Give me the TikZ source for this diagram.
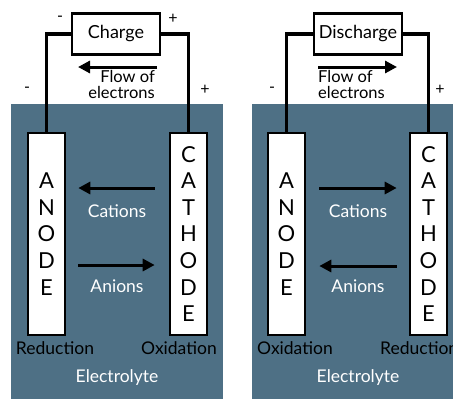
\documentclass[tikz,border=0pt]{standalone}
\usepackage{fontspec}
\setmainfont{Lato}
\usepackage{xcolor}
\definecolor{elyte}{HTML}{4E7085}
\usetikzlibrary{arrows.meta,positioning,calc}
\tikzset{
  >={Triangle[length=12pt,width=12pt]},
  bath/.style={fill=elyte,draw=none},
  electrode/.style={draw=black,fill=white,line width=2.6pt,minimum width=37pt,minimum height=202pt,inner sep=0pt,align=center,font=\fontsize{22}{26.6}\selectfont},
  pbox/.style={draw=black,fill=white,line width=2.6pt,minimum width=88pt,minimum height=41pt,inner sep=2pt,font=\fontsize{18}{20}\selectfont},
  wire/.style={draw=black,line width=3.2pt},
  arr/.style={->,draw=black,line width=3pt},
  lab/.style={font=\fontsize{17.5}{19}\selectfont,inner sep=0pt},
  wlab/.style={lab,text=white},
  flab/.style={lab,font=\fontsize{16.5}{16}\selectfont},
  sgn/.style={font=\fontsize{16}{16}\selectfont,inner sep=0pt},
}
\begin{document}
\begin{tikzpicture}[x=1pt,y=-1pt]
\useasboundingbox (0,0) rectangle (453,400);
% electrolyte baths
\fill[bath] (11,104) rectangle (223,399);
\fill[bath] (252,104) rectangle (453,399);

% charging cell
\node[electrode] (anodL) at (46.5,234) {A\\N\\O\\D\\E};
\node[electrode] (cathL) at (188.5,234) {C\\A\\T\\H\\O\\D\\E};
\node[pbox] (chg) at (116,34) {Charge};
\draw[wire] (anodL.north) |- (chg.west);
\draw[wire] (cathL.north) |- (chg.east);
\node[sgn] (mL1) at (60,19) {-};
\node[sgn] (pL1) at (173,19) {+};
\node[sgn] (mL2) at (27,90) {-};
\node[sgn] (pL2) at (205,90) {+};
\draw[arr] (157,67) coordinate (eL0) -- (78,67) coordinate (eL1);
\node[flab,align=right,anchor=north east] (flowL) at (155,70) {Flow of\\electrons};
\draw[arr] ($(cathL.west)+(-14,-46)$) -- ($(anodL.east)+(12,-46)$);
\node[wlab] (catL) at (117,211) {Cations};
\draw[arr] ($(anodL.east)+(12,31)$) -- ($(cathL.west)+(-14,31)$);
\node[wlab] (aniL) at (117,286) {Anions};
\node[lab] (redL) at (55,348) {Reduction};
\node[lab] (oxL) at (179,348) {Oxidation};
\node[wlab] (elL) at (117,378) {Electrolyte};

% discharging cell
\node[electrode] (anodR) at (286.5,234) {A\\N\\O\\D\\E};
\node[electrode] (cathR) at (428.5,234) {C\\A\\T\\H\\O\\D\\E};
\node[pbox] (dis) at (358,34) {Discharge};
\draw[wire] (anodR.north) |- (dis.west);
\draw[wire] (cathR.north) |- (dis.east);
\node[sgn] (mR2) at (272,90) {-};
\node[sgn] (pR2) at (440,90) {+};
\draw[arr] (318,67) coordinate (eR0) -- (397,67) coordinate (eR1);
\node[flab,align=left,anchor=north west] (flowR) at (318,70) {Flow of\\electrons};
\draw[arr] ($(anodR.east)+(13,-46)$) -- ($(cathR.west)+(-12,-46)$);
\node[wlab] (catR) at (358,211) {Cations};
\draw[arr] ($(cathR.west)+(-12,32)$) -- ($(anodR.east)+(13,32)$);
\node[wlab] (aniR) at (358,286) {Anions};
\node[lab] (oxR) at (295,348) {Oxidation};
\node[lab,anchor=west] (redR) at (380,348) {Reduction};
\node[wlab] (elR) at (358,378) {Electrolyte};
\end{tikzpicture}
\end{document}
